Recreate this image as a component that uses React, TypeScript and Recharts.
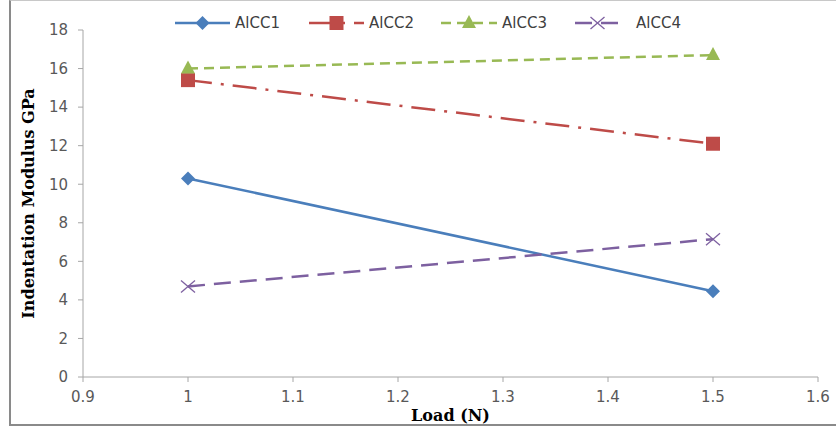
import * as React from "react";
import { Line, LineChart, XAxis, YAxis } from "recharts";

const loads = [1, 1.5];
const alcc1 = [10.3, 4.45];
const alcc2 = [15.4, 12.1];
const alcc3 = [16.0, 16.7];
const alcc4 = [4.7, 7.15];
const xTicks = [0.9, 1, 1.1, 1.2, 1.3, 1.4, 1.5, 1.6];
const yTicks = [0, 2, 4, 6, 8, 10, 12, 14, 16, 18];

type Marker = "diamond" | "square" | "triangle" | "cross";

const seriesDefs: { key: string; name: string; color: string; dash?: string; marker: Marker }[] = [
  { key: "a1", name: "AlCC1", color: "#4a7ebb", marker: "diamond" },
  { key: "a2", name: "AlCC2", color: "#be4b48", dash: "24 9 3 9", marker: "square" },
  { key: "a3", name: "AlCC3", color: "#98b954", dash: "10 6", marker: "triangle" },
  { key: "a4", name: "AlCC4", color: "#7d60a0", dash: "17 9", marker: "cross" },
];

const chartData = loads.map((load, i) => ({
  load,
  a1: alcc1[i],
  a2: alcc2[i],
  a3: alcc3[i],
  a4: alcc4[i],
}));

function MarkerShape({ cx, cy, marker, color }: { cx: number; cy: number; marker: Marker; color: string }) {
  if (marker === "diamond")
    return <path d={`M${cx},${cy - 7}L${cx + 7},${cy}L${cx},${cy + 7}L${cx - 7},${cy}Z`} fill={color} />;
  if (marker === "square") return <rect x={cx - 7} y={cy - 7} width={14} height={14} fill={color} />;
  if (marker === "triangle")
    return <path d={`M${cx},${cy - 8}L${cx + 7},${cy + 5}L${cx - 7},${cy + 5}Z`} fill={color} />;
  return (
    <g stroke={color} strokeWidth={1.3}>
      <line x1={cx - 7} y1={cy - 6} x2={cx + 7} y2={cy + 6} />
      <line x1={cx - 7} y1={cy + 6} x2={cx + 7} y2={cy - 6} />
    </g>
  );
}

// legend icon start, icon end, text start
const legendPos = [
  [175, 230, 235],
  [309, 364, 369],
  [441, 497, 502],
  [575, 620, 636],
];

function LegendContent() {
  return (
    <svg width={836} height={34} style={{ position: "absolute", left: 0, top: 0 }}>
      {seriesDefs.map((s, i) => {
        const [x0, x1, tx] = legendPos[i];
        return (
          <g key={s.key}>
            <line x1={x0} y1={23} x2={x1} y2={23} stroke={s.color} strokeWidth={2.5} strokeDasharray={s.dash} />
            <MarkerShape cx={(x0 + x1) / 2} cy={23} marker={s.marker} color={s.color} />
            <text x={tx} y={28} fontSize={15} fill="#404040" fontFamily="DejaVu Sans, sans-serif">
              {s.name}
            </text>
          </g>
        );
      })}
    </svg>
  );
}

const tickStyle = { fontSize: 15, fill: "#595959", fontFamily: "DejaVu Sans, sans-serif" };
const titleStyle = { fontSize: 16, fontWeight: "bold", fill: "#000", fontFamily: "DejaVu Serif, serif" };

export default function App() {
  return (
    <div style={{ position: "absolute", left: 0, top: 0, width: 836, height: 430, background: "#fff" }}>
      <div
        style={{
          position: "absolute",
          left: 9,
          top: 0,
          width: 840,
          height: 423,
          border: "2px solid #8a8a8a",
          borderTopWidth: 1,
          borderTopColor: "#c8c8c8",
        }}
      />
      <LineChart
        width={836}
        height={430}
        data={chartData}
        margin={{ top: 30, right: 18, bottom: 0, left: 0 }}
        style={{ position: "absolute", left: 0, top: 0 }}
      >
        <XAxis
          dataKey="load"
          type="number"
          domain={[0.9, 1.6]}
          ticks={xTicks}
          height={53}
          stroke="#a6a6a6"
          tick={tickStyle}
          tickSize={5}
          tickMargin={9}
          tickFormatter={(v: number) => String(Math.round(v * 10) / 10)}
          label={{ value: "Load (N)", position: "insideBottom", offset: 9, style: titleStyle }}
        />
        <YAxis
          type="number"
          domain={[0, 18]}
          ticks={yTicks}
          width={83}
          stroke="#a6a6a6"
          tick={tickStyle}
          tickSize={5}
          tickMargin={10}
          label={{
            value: "Indentation Modulus GPa",
            angle: -90,
            position: "insideLeft",
            offset: 28,
            style: { ...titleStyle, textAnchor: "middle" },
          }}
        />
        {seriesDefs.map((s) => (
          <Line
            key={s.key}
            dataKey={s.key}
            name={s.name}
            stroke={s.color}
            strokeWidth={2.5}
            strokeDasharray={s.dash}
            isAnimationActive={false}
            dot={(p: any) => (
              <MarkerShape key={`${s.key}-${p.index}`} cx={p.cx} cy={p.cy} marker={s.marker} color={s.color} />
            )}
            activeDot={false}
          />
        ))}
      </LineChart>
      <LegendContent />
    </div>
  );
}
